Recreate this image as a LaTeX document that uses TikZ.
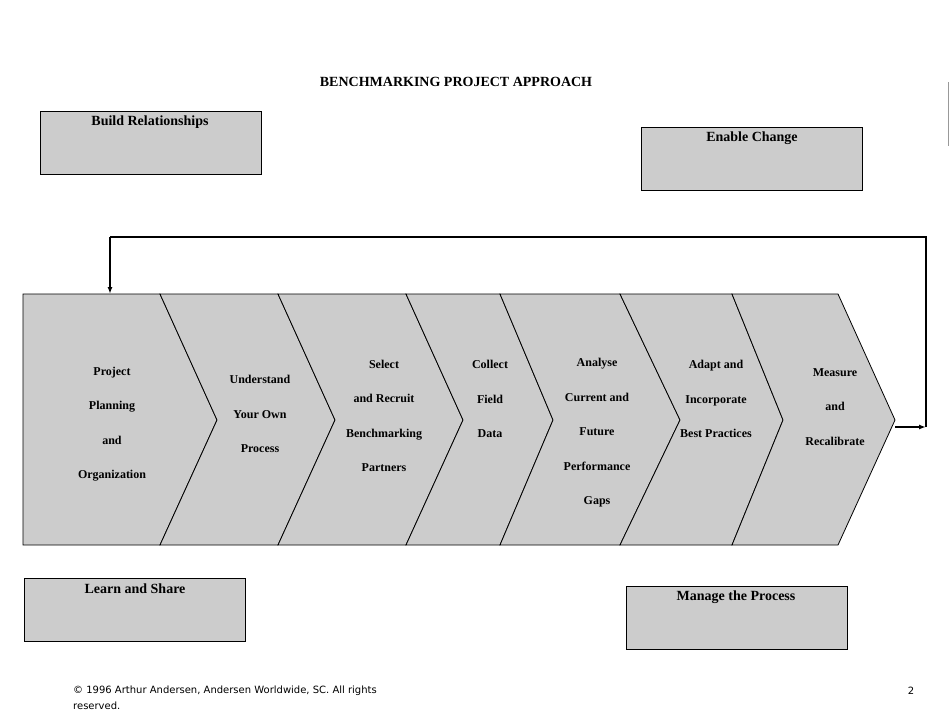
\documentclass[tikz,border=0pt]{standalone}
\usepackage{fontspec}
\setmainfont{Liberation Serif}
\newfontfamily\footfont{DejaVu Sans}
\begin{document}
\begin{tikzpicture}[x=1pt,y=-1pt,
  chev/.style={fill=black!20,draw=black,line width=0.8pt},
  lbl/.style={font=\fontsize{12}{34.5}\selectfont\bfseries,align=center,inner sep=0pt},
  box/.style={fill=black!20,draw=black,line width=0.8pt,minimum width=221pt,minimum height=63pt,inner sep=0pt},
  boxt/.style={font=\fontsize{14}{16}\selectfont\bfseries,inner sep=0pt},
  loop/.style={line width=2.2pt,-{Latex[length=7pt,width=5pt]}}]
\useasboundingbox (0,0) rectangle (950,713);
\usetikzlibrary{arrows.meta}
\node[font=\fontsize{14}{16}\selectfont\bfseries] (title) at (456,82) {BENCHMARKING PROJECT APPROACH};
% boxes
\node[box,anchor=north west] (b1) at (40,111) {};
\node[boxt] at (150,122) {Build Relationships};
\node[box,anchor=north west] (b2) at (641,127) {};
\node[boxt] at (752,138) {Enable Change};
\node[box,anchor=north west] (b3) at (24,578) {};
\node[boxt] at (135,589) {Learn and Share};
\node[box,anchor=north west] (b4) at (626,586) {};
\node[boxt] at (736,597) {Manage the Process};
% chevrons
\def\yt{294}\def\yb{545}\def\ym{420}
\draw[chev] (23,\yt) -- (160,\yt) -- (217,\ym) -- (160,\yb) -- (23,\yb) -- cycle;
\foreach \a/\b/\c/\d in {160/217/278/335, 278/335/406/463, 406/463/500/553, 500/553/620/680, 620/680/732/783, 732/783/838/895}
  \draw[chev] (\a,\yt) -- (\c,\yt) -- (\d,\ym) -- (\c,\yb) -- (\a,\yb) -- (\b,\ym) -- cycle;
\node[lbl] (c1) at (112,424) {Project\\Planning\\and\\Organization};
\node[lbl] (c2) at (260,414) {Understand\\Your Own\\Process};
\node[lbl] (c3) at (384,416) {Select\\and Recruit\\Benchmarking\\Partners};
\node[lbl] (c4) at (490,399) {Collect\\Field\\Data};
\node[lbl] (c5) at (597,433) {Analyse\\Current and\\Future\\Performance\\Gaps};
\node[lbl] (c6) at (716,399) {Adapt and\\Incorporate\\Best Practices};
\node[lbl] (c7) at (835,407) {Measure\\and\\Recalibrate};
% loop
\coordinate (s) at (895,427);
\coordinate (e) at (110,294);
\draw[loop] (s) -- (926,427);
\draw[line width=2.2pt] (926,427) -- (926,237) -- (110,237);
\draw[loop] (110,237) -- (e);
\draw[black!40,line width=1pt] (948,82) -- (948,146);
\node[font=\footfont\fontsize{10}{16}\selectfont,align=left,anchor=north west,inner sep=0pt] (ft) at (73,686) {© 1996 Arthur Andersen, Andersen Worldwide, SC. All rights\\reserved.};
\node[font=\footfont\fontsize{10}{12}\selectfont,inner sep=0pt] (pg) at (911,691) {2};
\end{tikzpicture}
\end{document}
